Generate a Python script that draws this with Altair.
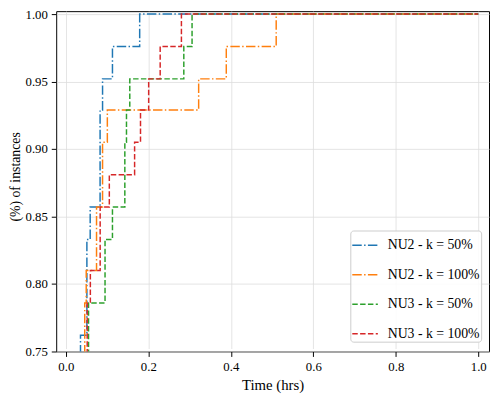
import altair as alt
import pandas as pd

series_names = ["NU2 - k = 50%", "NU2 - k = 100%", "NU3 - k = 50%", "NU3 - k = 100%"]
colors = ["#1f77b4", "#ff7f0e", "#2ca02c", "#d62728"]
dashes = [[9.6, 2.4, 1.5, 2.4], [9.6, 2.4, 1.5, 2.4], [5.55, 2.4], [5.55, 2.4]]

nu2_50_time = [0.030, 0.0355, 0.051, 0.059, 0.083, 0.089, 0.113, 0.179, 1.0]
nu2_50_frac = [0.738, 0.762, 0.833, 0.857, 0.929, 0.952, 0.976, 1.0, 1.0]

nu2_100_time = [0.040, 0.0458, 0.0494, 0.0744, 0.089, 0.1006, 0.322, 0.389, 0.510, 1.0]
nu2_100_frac = [0.738, 0.786, 0.810, 0.857, 0.905, 0.929, 0.952, 0.976, 1.0, 1.0]

nu3_50_time = [0.048, 0.055, 0.095, 0.113, 0.143, 0.147, 0.155, 0.286, 0.306, 1.0]
nu3_50_frac = [0.738, 0.786, 0.833, 0.857, 0.905, 0.929, 0.952, 0.976, 1.0, 1.0]

nu3_100_time = [0.046, 0.0518, 0.0594, 0.0832, 0.1054, 0.1667, 0.181, 0.2008, 0.2287, 0.2802, 1.0]
nu3_100_frac = [0.738, 0.786, 0.810, 0.857, 0.881, 0.905, 0.929, 0.952, 0.976, 1.0, 1.0]

x_ticks = [0.0, 0.2, 0.4, 0.6, 0.8, 1.0]
y_ticks = [0.75, 0.80, 0.85, 0.90, 0.95, 1.00]

rows = []
for name, xs, ys in zip(series_names,
                        [nu2_50_time, nu2_100_time, nu3_50_time, nu3_100_time],
                        [nu2_50_frac, nu2_100_frac, nu3_50_frac, nu3_100_frac]):
    for i, (x, y) in enumerate(zip(xs, ys)):
        rows.append({"series": name, "time": x, "frac": y, "idx": i})
df = pd.DataFrame(rows)

FONT = "Liberation Serif"

legend = alt.Legend(
    title=None, orient="none", legendX=299, legendY=223,
    fillColor="rgba(255,255,255,0.85)", strokeColor="#cccccc", cornerRadius=3,
    padding=1, symbolType="stroke", symbolSize=676, symbolStrokeWidth=1.5,
    labelFont=FONT, labelFontSize=14, labelColor="black", rowPadding=9, labelOffset=9,
)

chart = alt.Chart(df).mark_line(interpolate="step-after", strokeWidth=1.5, clip=True).encode(
    x=alt.X("time:Q",
            scale=alt.Scale(domain=[-0.0234, 1.026], nice=False, zero=False),
            axis=alt.Axis(values=x_ticks, format=".1f", title="Time (hrs)", titlePadding=5)),
    y=alt.Y("frac:Q",
            scale=alt.Scale(domain=[0.75, 1.0], range=[346, 3], nice=False, zero=False),
            axis=alt.Axis(values=y_ticks, format=".2f", title="(%) of instances",
                          titleX=-41, titleY=168, titleAngle=270, titleAlign="center",
                          titleBaseline="middle", titleFontSize=14)),
    color=alt.Color("series:N", scale=alt.Scale(domain=series_names, range=colors), legend=legend),
    strokeDash=alt.StrokeDash("series:N", scale=alt.Scale(domain=series_names, range=dashes), legend=legend),
    order="idx:Q",
).properties(
    width=440, height=346,
    autosize=alt.AutoSizeParams(type="none"),
    padding={"left": 49, "top": 0, "right": 1, "bottom": 40},
).configure_view(
    stroke="black", strokeWidth=1
).configure_axis(
    domain=False, tickColor="black", tickSize=5, tickWidth=1,
    labelFont=FONT, labelFontSize=13, labelColor="black", labelPadding=4,
    titleFont=FONT, titleFontSize=15, titleFontWeight="normal", titleColor="black",
    gridColor="#dddddd", gridWidth=0.8,
)

chart.save("out.html", embed_options={"renderer": "svg", "actions": False})
